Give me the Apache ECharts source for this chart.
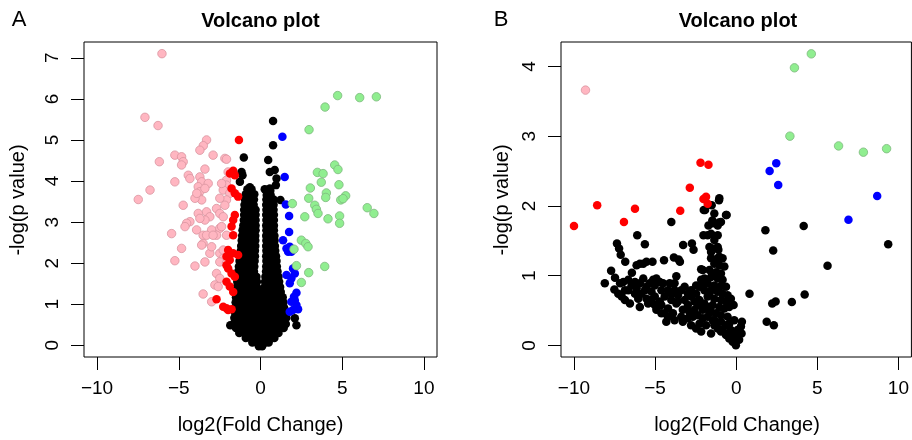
<!DOCTYPE html>
<html><head><meta charset="utf-8">
<script src="https://cdn.jsdelivr.net/npm/echarts@6/dist/echarts.min.js"></script>
<style>html,body{margin:0;padding:0;background:#fff}#c{width:912px;height:440px}</style>
</head><body><div id="c"></div><script>
// ---- data ----
const xTicks = [-10, -5, 0, 5, 10];
const yTicksA = [0, 1, 2, 3, 4, 5, 6, 7];
const yTicksB = [0, 1, 2, 3, 4];

const blackA = [
[0.77,5.46],[0.77,4.87],[-1.02,4.57],[0.47,4.51],[-1.16,4.22],[-1.10,4.14],[-1.26,3.98],[0.57,4.22],[0.87,4.27],[0.98,4.06],[0.94,3.90],[0.57,3.82],[0.26,3.80],[1.22,3.54],[-0.65,3.85],[2.10,0.66],[2.20,0.49],
[-0.80,3.80],[-0.55,3.80],[0.40,3.78],[0.60,3.76],
[-0.90,3.68],[-0.62,3.68],[-0.38,3.68],[0.38,3.66],[0.62,3.66],
[-0.95,3.55],[-0.68,3.55],[-0.40,3.55],[0.36,3.55],[0.58,3.55],[0.80,3.55],
[-0.98,3.42],[-0.70,3.42],[-0.42,3.42],[0.35,3.42],[0.58,3.42],[0.80,3.42],
[-1.00,3.30],[-0.72,3.30],[-0.45,3.30],[-0.30,3.30],[0.36,3.30],[0.60,3.30],[0.80,3.30],
[-1.00,3.18],[-0.75,3.18],[-0.50,3.18],[-0.30,3.18],[0.35,3.18],[0.58,3.18],[0.82,3.18],
[-1.02,3.05],[-0.76,3.05],[-0.50,3.05],[-0.30,3.05],[0.36,3.05],[0.60,3.05],[0.82,3.05],
[-1.05,2.92],[-0.78,2.92],[-0.52,2.92],[-0.30,2.92],[0.35,2.92],[0.58,2.92],[0.82,2.92],
[-1.10,2.80],[-0.82,2.80],[-0.55,2.80],[-0.30,2.80],[0.36,2.80],[0.60,2.80],[0.82,2.80],
[-1.12,2.67],[-0.85,2.67],[-0.58,2.67],[-0.32,2.67],[0.35,2.67],[0.60,2.67],[0.85,2.67],
[-1.15,2.55],[-0.88,2.55],[-0.60,2.55],[-0.32,2.55],[0.36,2.55],[0.62,2.55],[0.86,2.55],
[-1.18,2.42],[-0.90,2.42],[-0.62,2.42],[-0.32,2.42],[0.35,2.42],[0.62,2.42],[0.88,2.42],
[-1.20,2.30],[-0.92,2.30],[-0.64,2.30],[-0.34,2.30],[0.36,2.30],[0.64,2.30],[0.90,2.30],
[-1.25,2.17],[-0.96,2.17],[-0.66,2.17],[-0.34,2.17],[0.35,2.17],[0.65,2.17],[0.95,2.17],
[-1.28,2.05],[-1.00,2.05],[-0.70,2.05],[-0.36,2.05],[0.36,2.05],[0.66,2.05],[0.98,2.05],
[-1.32,1.92],[-1.02,1.92],[-0.72,1.92],[-0.38,1.92],[0.35,1.92],[0.66,1.92],[1.00,1.92],
[-1.36,1.80],[-1.06,1.80],[-0.76,1.80],[-0.40,1.80],[0.34,1.80],[0.66,1.80],[1.04,1.80],
[-1.40,1.67],[-1.10,1.67],[-0.80,1.67],[-0.45,1.67],[-0.25,1.67],[0.30,1.67],[0.62,1.67],[0.92,1.67],[1.10,1.67],
[-1.42,1.55],[-1.12,1.55],[-0.82,1.55],[-0.50,1.55],[-0.22,1.55],[0.28,1.55],[0.60,1.55],[0.90,1.55],[1.14,1.55],
[-1.45,1.42],[-1.15,1.42],[-0.85,1.42],[-0.55,1.42],[-0.22,1.42],[0.25,1.42],[0.58,1.42],[0.90,1.42],[1.20,1.42],
[-1.48,1.30],[-1.18,1.30],[-0.88,1.30],[-0.58,1.30],[-0.28,1.30],[0.05,1.30],[0.32,1.30],[0.62,1.30],[0.92,1.30],[1.24,1.30],
[-1.50,1.17],[-1.20,1.17],[-0.90,1.17],[-0.60,1.17],[-0.30,1.17],[0.00,1.17],[0.30,1.17],[0.60,1.17],[0.90,1.17],[1.20,1.17],[1.36,1.17],
[-1.52,1.05],[-1.22,1.05],[-0.92,1.05],[-0.62,1.05],[-0.32,1.05],[-0.02,1.05],[0.28,1.05],[0.58,1.05],[0.88,1.05],[1.18,1.05],[1.40,1.05],
[-1.54,0.92],[-1.24,0.92],[-0.94,0.92],[-0.64,0.92],[-0.34,0.92],[-0.04,0.92],[0.26,0.92],[0.56,0.92],[0.86,0.92],[1.16,0.92],[1.44,0.92],
[-1.56,0.80],[-1.26,0.80],[-0.96,0.80],[-0.66,0.80],[-0.36,0.80],[-0.06,0.80],[0.24,0.80],[0.54,0.80],[0.84,0.80],[1.14,0.80],[1.46,0.80],
[-1.60,0.67],[-1.30,0.67],[-1.00,0.67],[-0.70,0.67],[-0.40,0.67],[-0.10,0.67],[0.20,0.67],[0.50,0.67],[0.80,0.67],[1.10,0.67],[1.40,0.67],[1.58,0.67],
[-1.60,0.55],[-1.30,0.55],[-1.00,0.55],[-0.70,0.55],[-0.40,0.55],[-0.10,0.55],[0.20,0.55],[0.50,0.55],[0.80,0.55],[1.10,0.55],[1.40,0.55],[1.55,0.52],
[-1.85,0.49],[-1.50,0.42],[-1.20,0.42],[-0.90,0.42],[-0.60,0.42],[-0.30,0.42],[0.00,0.42],[0.30,0.42],[0.60,0.42],[0.90,0.42],[1.20,0.42],[1.42,0.42],
[-1.30,0.30],[-1.00,0.30],[-0.70,0.30],[-0.40,0.30],[-0.10,0.30],[0.20,0.30],[0.50,0.30],[0.80,0.30],[1.10,0.30],
[-0.90,0.18],[-0.60,0.18],[-0.30,0.18],[0.00,0.18],[0.30,0.18],[0.60,0.18],[0.85,0.18],
[-0.50,0.07],[-0.22,0.07],[0.05,0.07],[0.30,0.07],[0.50,0.07],
[-0.10,-0.02],[0.10,-0.02]
];

const pinkA = [
[-6.03,7.10],[-7.07,5.55],[-6.27,5.35],[-6.19,4.47],[-7.48,3.55],[-6.76,3.78],
[-5.24,4.63],[-4.83,4.59],[-4.73,4.47],[-4.83,4.39],[-5.24,3.98],[-4.42,4.14],[-4.32,4.06],
[-3.30,5.00],[-3.50,4.86],[-3.71,4.75],[-2.90,4.63],[-2.18,4.55],[-2.08,4.53],[-3.40,4.29],
[-3.71,4.10],[-3.60,3.98],[-3.81,3.86],[-3.71,3.74],[-3.81,3.62],[-3.60,3.54],[-4.01,3.58],[-3.90,3.70],
[-1.98,4.22],[-2.08,4.02],[-2.08,3.90],[-2.28,3.78],[-1.88,3.70],[-2.08,3.54],[-2.49,3.58],[-2.18,3.41],[-2.38,3.94],
[-3.20,3.94],[-3.40,3.82],[-4.73,3.41],
[-3.81,3.21],[-3.30,3.25],[-3.10,3.13],[-3.40,3.05],[-3.71,3.09],[-4.32,3.01],
[-2.69,3.33],[-2.49,3.21],[-2.28,3.13],
[-2.99,2.81],[-2.49,2.85],[-2.69,2.68],[-2.08,2.68],[-2.38,2.89],
[-3.91,2.81],[-3.51,2.68],[-4.52,2.97],[-5.44,2.72],[-4.62,2.89],
[-4.83,2.36],[-5.24,2.06],[-4.01,1.93],
[-3.30,2.68],[-2.90,2.68],[-3.51,2.48],[-3.60,2.44],[-3.10,2.24],[-3.40,2.03],[-2.99,2.40],
[-2.49,2.24],[-2.28,2.12],[-2.49,2.03],[-2.28,2.32],[-2.08,2.00],
[-2.69,1.75],[-2.49,1.63],[-2.79,1.47],[-2.59,1.43],
[-3.51,1.25],[-2.99,1.06]
];

const redA = [
[-1.32,5.00],[-1.67,4.25],[-1.57,4.14],[-1.87,4.18],[-1.77,3.82],[-1.57,3.70],[-1.37,3.62],
[-1.57,3.17],[-1.67,3.05],[-1.77,2.89],[-1.67,2.68],
[-1.98,2.32],[-1.67,2.24],[-1.37,2.20],[-2.08,2.16],[-1.88,2.08],
[-1.98,1.87],[-1.77,1.75],[-1.57,1.67],[-2.08,1.95],
[-2.08,1.55],[-1.88,1.43],[-1.67,1.30],
[-2.69,1.12],[-2.28,0.94],[-1.98,0.86],[-2.08,0.90],[-1.77,0.88]
];

const blueA = [
[1.34,5.08],[1.48,4.10],[1.55,3.43],[1.75,3.15],[1.75,2.76],[1.38,2.56],
[1.59,2.36],[1.79,2.40],[1.89,2.28],[1.69,2.28],
[1.99,1.87],[2.10,1.75],[1.59,1.71],[1.89,1.63],[1.79,1.51],
[2.20,1.28],[2.10,1.10],[1.89,1.06],[2.20,0.98],[1.99,0.86],[2.30,0.88],[1.79,0.82],[2.05,1.18]
];

const greenA = [
[4.72,6.08],[6.07,6.03],[7.09,6.05],[3.95,5.80],[2.97,5.25],
[4.54,4.39],[4.74,4.28],[3.48,4.21],[3.83,4.18],[3.72,3.97],[4.80,3.91],[3.05,3.83],
[4.03,3.71],[3.99,3.60],[5.21,3.64],[4.91,3.54],[5.05,3.57],[2.95,3.58],[1.95,3.45],
[3.32,3.41],[3.42,3.31],[3.52,3.21],[6.53,3.35],[6.94,3.21],[2.71,3.13],[4.13,3.08],
[4.84,3.15],[4.84,2.97],[2.50,2.56],[2.77,2.48],[2.91,2.40],[2.05,2.34],
[3.93,1.92],[2.20,1.94],[2.95,1.77],[2.50,1.53]
];

const blackB = [
[0.82,0.74],[1.80,1.65],[4.16,1.71],[2.28,1.36],[9.37,1.45],[5.63,1.14],[4.22,0.73],[2.22,0.60],[2.43,0.63],[3.43,0.62],[1.88,0.34],[2.32,0.29],
[-1.06,2.08],[-1.51,2.01],[-1.92,1.94],[-1.35,1.89],[-0.59,1.87],[-1.71,1.72],[-1.47,1.79],[-1.06,1.76],[-4.00,1.77],
[-2.00,1.94],[-1.04,2.11],[-0.63,1.87],[-0.94,1.77],[-1.45,1.75],[-1.14,1.72],
[-6.10,1.58],[-5.63,1.45],[-7.35,1.46],[-7.22,1.39],[-7.12,1.30],[-6.84,1.20],
[-2.02,1.58],[-1.76,1.58],[-1.55,1.60],[-1.14,1.58],[-1.35,1.51],[-1.65,1.41],[-1.45,1.39],[-1.14,1.41],[-1.55,1.34],[-1.04,1.27],[-1.10,1.37],
[-3.27,1.44],[-2.73,1.46],[-2.63,1.37],[-3.84,1.26],[-3.55,1.23],[-3.47,1.20],[-4.45,1.22],
[-6.14,1.15],[-5.94,1.17],[-5.73,1.17],[-5.53,1.20],[-5.16,1.20],
[-2.16,1.09],[-2.06,1.08],[-1.96,0.96],[-2.16,0.94],[-2.06,0.86],[-3.69,0.99],
[-7.71,1.07],[-7.47,0.97],[-8.10,0.89],[-6.43,1.04],
[-1.55,1.25],[-1.14,1.25],[-0.84,1.25],[-1.35,1.17],[-1.04,1.15],[-0.73,1.13],[-1.65,1.08],[-1.24,1.05],[-0.94,1.03],
[-1.55,0.98],[-1.14,0.96],[-0.84,0.94],[-1.76,0.89],[-1.35,0.86],[-0.94,0.85],[-0.63,0.84],
[-1.55,0.79],[-1.14,0.77],[-0.84,0.74],[-0.53,0.72],[-1.76,0.70],[-1.35,0.67],[-0.94,0.65],[-0.63,0.63],[-0.33,0.67],
[-1.45,0.58],[-1.04,0.55],[-0.73,0.53],[-0.43,0.55],[-0.16,0.58],[-1.65,0.48],[-1.24,0.46],[-0.94,0.43],[-0.53,0.41],
[-1.35,0.36],[-0.94,0.34],[-0.63,0.29],[-0.84,0.22],[-0.43,0.31],[-0.12,0.36],
[-1.55,0.17],[-0.94,0.20],[-0.63,0.15],[-0.43,0.10],[-0.22,0.05],[-0.02,0.00],[0.18,0.08],[0.33,0.17],[0.29,0.27],[0.35,0.34],[0.08,0.22],[-0.33,0.22],[-0.53,0.17],[-0.12,0.12],[0.08,0.15],[-0.22,0.17],
[-7.51,0.80],[-7.27,0.74],[-7.06,0.70],[-6.86,0.65],[-7.16,0.89],[-6.96,0.91],[-6.65,0.94],[-6.45,0.86],[-6.65,0.79],[-6.24,0.74],[-6.04,0.67],[-5.94,0.55],[-6.55,0.60],
[-6.24,0.91],[-5.94,0.89],[-5.73,0.96],[-5.53,0.84],[-5.33,0.89],[-5.12,0.94],[-4.92,0.96],[-4.71,0.91],[-4.51,0.89],[-5.22,0.77],[-5.02,0.70],[-4.71,0.63],[-4.92,0.51],
[-4.41,0.46],[-4.31,0.34],[-3.80,0.36],[-4.20,0.53],[-5.84,0.74],[-5.53,0.67],[-5.43,0.60],[-5.02,0.58],[-4.61,0.58],
[-4.20,0.79],[-4.00,0.74],[-3.80,0.79],[-3.59,0.72],[-3.39,0.79],[-3.18,0.65],[-2.98,0.58],[-3.69,0.60],[-3.29,0.51],[-2.88,0.48],[-2.57,0.51],[-2.37,0.43],
[-2.06,0.39],[-1.86,0.29],[-3.29,0.34],[-2.78,0.29],[-2.47,0.24],[-2.16,0.20],
[-2.98,0.74],[-2.78,0.70],[-2.57,0.63],[-2.27,0.65],[-1.96,0.60],[-1.76,0.55],[-1.55,0.48],[-1.45,0.36],[-1.35,0.29],[-1.14,0.24],
[-6.86,0.79],[-6.14,0.82],[-5.63,0.79],[-5.02,0.86],[-4.61,0.79],[-4.41,0.70],[-4.00,0.65],[-3.59,0.63],[-4.10,0.89],[-3.80,0.89],
[-3.18,0.84],[-2.78,0.79],[-2.47,0.74],[-2.37,0.58],[-2.06,0.51],[-1.76,0.41],[-1.65,0.74],[-1.96,0.79],[-2.47,0.86],[-2.27,0.84],
[-5.22,0.65],[-4.61,0.46],[-4.20,0.41],[-3.90,0.46],[-3.39,0.41],[-2.98,0.39],[-2.67,0.41],[-2.27,0.31]
];
const pinkB = [[-9.29,3.66]];
const redB = [[-2.20,2.62],[-1.71,2.59],[-2.86,2.26],[-1.86,2.13],[-2.02,2.10],[-1.76,2.03],[-3.45,1.93],[-6.24,1.96],[-8.57,2.01],[-6.92,1.77],[-10.0,1.71]];
const blueB = [[2.47,2.61],[2.06,2.50],[2.59,2.30],[8.69,2.14],[6.92,1.80]];
const greenB = [[4.63,4.18],[3.59,3.98],[3.31,3.00],[6.31,2.86],[7.84,2.77],[9.27,2.82]];

// ---- chart ----
const FONT = '"Liberation Sans", Arial, Helvetica, sans-serif';
const chart = echarts.init(document.getElementById('c'), null, {renderer: 'canvas'});
const minus = v => String(v).replace('-', '\u2212');

function xAx(g) {
  return {gridIndex: g, type: 'value', min: -10.8, max: 10.8, position: 'bottom',
    axisLine: {show: false, onZero: false}, splitLine: {show: false},
    axisTick: {show: true, inside: false, length: 13, customValues: xTicks, lineStyle: {color: '#000', width: 1}},
    axisLabel: {customValues: xTicks, fontSize: 19, color: '#000', fontFamily: FONT, margin: 22, formatter: minus}};
}
function yAx(g, min, max, ticks) {
  return {gridIndex: g, type: 'value', min: min, max: max, position: 'left',
    axisLine: {show: false, onZero: false}, splitLine: {show: false},
    axisTick: {show: true, inside: false, length: 13, customValues: ticks, lineStyle: {color: '#000', width: 1}},
    axisLabel: {customValues: ticks, rotate: 90, fontSize: 19, color: '#000', fontFamily: FONT, margin: 22}};
}
function sc(data, g, color, border) {
  return {type: 'scatter', xAxisIndex: g, yAxisIndex: g, data: data, symbol: 'circle', symbolSize: 8.5,
    silent: true, animation: false,
    itemStyle: {color: color, borderColor: border || color, borderWidth: border ? 0.8 : 0, opacity: 1}};
}
const PINK = '#FFB6C1', PINKB = '#D9949F', GREEN = '#90EE90', GREENB = '#7DB87D';

const option = {
  animation: false,
  backgroundColor: '#fff',
  grid: [
    {left: 84, top: 42, width: 353, height: 315, show: true, borderColor: '#000', borderWidth: 1, containLabel: false},
    {left: 561, top: 42, width: 354, height: 315, show: true, borderColor: '#000', borderWidth: 1, containLabel: false}
  ],
  xAxis: [xAx(0), xAx(1)],
  yAxis: [yAx(0, -0.284, 7.384, yTicksA), yAx(1, -0.167, 4.35, yTicksB)],
  series: [
    sc(blackA, 0, '#000'), sc(pinkA, 0, PINK, PINKB), sc(redA, 0, '#FF0000'), sc(blueA, 0, '#0000FF'), sc(greenA, 0, GREEN, GREENB),
    sc(blackB, 1, '#000'), sc(pinkB, 1, PINK, PINKB), sc(redB, 1, '#FF0000'), sc(blueB, 1, '#0000FF'), sc(greenB, 1, GREEN, GREENB)
  ],
  graphic: [
    {type: 'text', x: 19, y: 20, style: {text: 'A', font: '22px ' + FONT, fill: '#000', textAlign: 'center', textVerticalAlign: 'middle'}},
    {type: 'text', x: 501, y: 20, style: {text: 'B', font: '22px ' + FONT, fill: '#000', textAlign: 'center', textVerticalAlign: 'middle'}},
    {type: 'text', x: 260.5, y: 21, style: {text: 'Volcano plot', font: 'bold 20px ' + FONT, fill: '#000', textAlign: 'center', textVerticalAlign: 'middle'}},
    {type: 'text', x: 738, y: 21, style: {text: 'Volcano plot', font: 'bold 20px ' + FONT, fill: '#000', textAlign: 'center', textVerticalAlign: 'middle'}},
    {type: 'text', x: 260.5, y: 425, style: {text: 'log2(Fold Change)', font: '20px ' + FONT, fill: '#000', textAlign: 'center', textVerticalAlign: 'middle'}},
    {type: 'text', x: 737, y: 425, style: {text: 'log2(Fold Change)', font: '20px ' + FONT, fill: '#000', textAlign: 'center', textVerticalAlign: 'middle'}},
    {type: 'text', x: 18, y: 200, rotation: Math.PI / 2, style: {text: '-log(p value)', font: '20px ' + FONT, fill: '#000', textAlign: 'center', textVerticalAlign: 'middle'}},
    {type: 'text', x: 502, y: 200, rotation: Math.PI / 2, style: {text: '-log(p value)', font: '20px ' + FONT, fill: '#000', textAlign: 'center', textVerticalAlign: 'middle'}}
  ]
};
chart.setOption(option);
</script></body></html>
